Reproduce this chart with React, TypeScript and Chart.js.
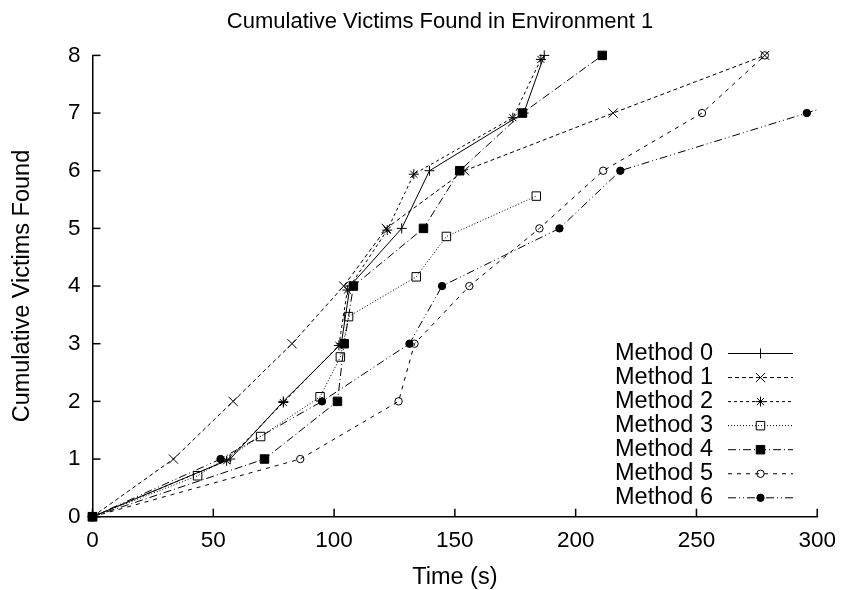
import React, { useEffect, useRef } from 'react';
import { Chart, registerables } from 'chart.js';
import { drawPoint } from 'chart.js/helpers';

Chart.register(...registerables);

const chartTitle = 'Cumulative Victims Found in Environment 1';
const xAxisTitle = 'Time (s)';
const yAxisTitle = 'Cumulative Victims Found';
const methodLabels = ['Method 0', 'Method 1', 'Method 2', 'Method 3', 'Method 4', 'Method 5', 'Method 6'];

const xTicks = [0, 50, 100, 150, 200, 250, 300];
const yTicks = [0, 1, 2, 3, 4, 5, 6, 7, 8];

const times0 = [0, 57, 79, 103, 106.6, 128, 139.5, 178.5, 187];
const found0 = [0, 1, 2, 3, 4, 5, 6, 7, 8];
const times1 = [0, 33.5, 58.2, 82.6, 104, 121.6, 154, 215.5, 278.3];
const found1 = [0, 1, 2, 3, 4, 5, 6, 7, 8];
const times2 = [0, 55.5, 79, 102, 105.5, 122, 133, 174, 185.6];
const found2 = [0, 0.97, 1.98, 2.97, 3.93, 4.97, 5.94, 6.92, 7.93];
const times3 = [0, 43.5, 69.6, 94.2, 102.6, 106, 134, 146.5, 183.7];
const found3 = [0, 0.71, 1.39, 2.08, 2.77, 3.47, 4.16, 4.86, 5.56];
const times4 = [0, 71.2, 101.4, 104.2, 108, 137, 152, 178, 211];
const found4 = [0, 1, 2, 3, 4, 5, 6, 7, 8];
const times5 = [0, 86, 126.7, 133.3, 156, 185, 211.4, 252.3, 278.3];
const found5 = [0, 1, 2, 3, 4, 5, 6, 7, 8];
const times6 = [0, 53, 95, 131.2, 144.7, 193.3, 218.5, 295.7, 370];
const found6 = [0, 1, 2, 3, 4, 5, 6, 7, 8];

const allTimes = [times0, times1, times2, times3, times4, times5, times6];
const allFound = [found0, found1, found2, found3, found4, found5, found6];

const FONT = "'Liberation Sans', Arial, Helvetica, sans-serif";
const FS_TITLE = 22;
const FS_TICK = 22.5;
const FS_AXIS = 23.5;
const FS_LEGEND = 23.5;

const styles = [
  { dash: [], point: 'cross', r: 5, fill: 'rgba(0,0,0,0)' },
  { dash: [4, 3], point: 'crossRot', r: 6.5, fill: 'rgba(0,0,0,0)' },
  { dash: [3, 3], point: 'star', r: 5, fill: 'rgba(0,0,0,0)' },
  { dash: [1, 2], point: 'rect', r: 6, fill: 'rgba(0,0,0,0)' },
  { dash: [8, 3, 1, 3], point: 'rect', r: 6, fill: '#000' },
  { dash: [4, 5], point: 'circle', r: 3.7, fill: 'rgba(0,0,0,0)' },
  { dash: [8, 3, 1, 3, 1, 3], point: 'circle', r: 3.7, fill: '#000' },
];

const titlePlugin = {
  id: 'gpTitle',
  afterDraw(chart: any) {
    const { ctx } = chart;
    ctx.save();
    ctx.fillStyle = '#000';
    ctx.font = `${FS_TITLE}px ${FONT}`;
    ctx.textAlign = 'center';
    ctx.textBaseline = 'middle';
    ctx.fillText(chartTitle, 440, 22);
    ctx.restore();
  },
};

const ticksPlugin = {
  id: 'inwardTicks',
  afterDraw(chart: any) {
    const { ctx, chartArea, scales } = chart;
    ctx.save();
    ctx.strokeStyle = '#000';
    ctx.lineWidth = 1.5;
    ctx.setLineDash([]);
    xTicks.forEach((v) => {
      const px = scales.x.getPixelForValue(v);
      ctx.beginPath();
      ctx.moveTo(px, chartArea.bottom);
      ctx.lineTo(px, chartArea.bottom - 8);
      ctx.stroke();
    });
    yTicks.forEach((v) => {
      const py = scales.y.getPixelForValue(v);
      ctx.beginPath();
      ctx.moveTo(chartArea.left, py);
      ctx.lineTo(chartArea.left + 8, py);
      ctx.stroke();
    });
    ctx.restore();
  },
};

const legendPlugin = {
  id: 'gpLegend',
  afterDraw(chart: any) {
    const { ctx } = chart;
    ctx.save();
    chart.data.datasets.forEach((ds: any, i: number) => {
      const y = 353.5 + 24.05 * i;
      ctx.fillStyle = '#000';
      ctx.font = `${FS_LEGEND}px ${FONT}`;
      ctx.textAlign = 'right';
      ctx.textBaseline = 'middle';
      ctx.fillText(ds.label, 713, y);
      ctx.strokeStyle = '#000';
      ctx.lineWidth = 1;
      ctx.setLineDash(ds.borderDash || []);
      ctx.beginPath();
      ctx.moveTo(728, y);
      ctx.lineTo(793, y);
      ctx.stroke();
      ctx.setLineDash([]);
      ctx.fillStyle = ds.pointBackgroundColor;
      ctx.strokeStyle = '#000';
      ctx.lineWidth = 1;
      drawPoint(ctx, { pointStyle: ds.pointStyle, radius: ds.pointRadius, rotation: 0, borderWidth: 1 }, 760.5, y);
    });
    ctx.restore();
  },
};

export default function App() {
  const ref = useRef<HTMLCanvasElement | null>(null);

  useEffect(() => {
    if (!ref.current) return;
    const datasets = methodLabels.map((label, i) => ({
      label,
      data: allTimes[i].map((t, j) => ({ x: t, y: allFound[i][j] })),
      showLine: true,
      clip: { left: 12, top: 12, right: i === 6 ? 0 : 12, bottom: 12 },
      borderColor: '#000',
      borderWidth: 1,
      borderDash: styles[i].dash,
      pointStyle: styles[i].point,
      pointRadius: styles[i].r,
      pointBorderWidth: 1,
      pointBorderColor: '#000',
      pointBackgroundColor: styles[i].fill,
      backgroundColor: styles[i].fill,
      fill: false,
      tension: 0,
    }));

    const chart = new Chart(ref.current, {
      type: 'scatter',
      data: { datasets },
      options: {
        animation: false,
        responsive: false,
        events: [],
        layout: { padding: { left: 0, right: 25.5, top: 55.4, bottom: 0 } },
        plugins: {
          legend: { display: false },
          title: { display: false },
          tooltip: { enabled: false },
        },
        scales: {
          x: {
            type: 'linear',
            min: 0,
            max: 300,
            afterBuildTicks: (s: any) => {
              s.ticks = xTicks.map((v) => ({ value: v }));
            },
            afterFit: (s: any) => {
              s.height = 73.3;
            },
            grid: { display: false, drawTicks: false },
            border: { display: true, color: '#000', width: 1.5 },
            ticks: {
              color: '#000',
              padding: 11,
              maxRotation: 0,
              font: { family: FONT, size: FS_TICK },
            },
            title: {
              display: true,
              text: xAxisTitle,
              color: '#000',
              padding: { top: 0, bottom: 0 },
              font: { family: FONT, size: FS_AXIS, lineHeight: 1.1 },
            },
          },
          y: {
            type: 'linear',
            min: 0,
            max: 8,
            afterBuildTicks: (s: any) => {
              s.ticks = yTicks.map((v) => ({ value: v }));
            },
            afterFit: (s: any) => {
              s.width = 92.5;
            },
            grid: { display: false, drawTicks: false },
            border: { display: true, color: '#000', width: 1.5 },
            ticks: {
              color: '#000',
              padding: 12,
              font: { family: FONT, size: FS_TICK },
            },
            title: {
              display: true,
              text: yAxisTitle,
              color: '#000',
              padding: { top: 8, bottom: 0 },
              font: { family: FONT, size: FS_AXIS, lineHeight: 1.2 },
            },
          },
        },
      },
      plugins: [titlePlugin, ticksPlugin, legendPlugin],
    });
    return () => chart.destroy();
  }, []);

  return (
    <div style={{ position: 'absolute', left: 0, top: 0, width: 847, height: 590, background: '#fff' }}>
      <canvas ref={ref} width={847} height={590} style={{ width: 847, height: 590, display: 'block' }} />
    </div>
  );
}
